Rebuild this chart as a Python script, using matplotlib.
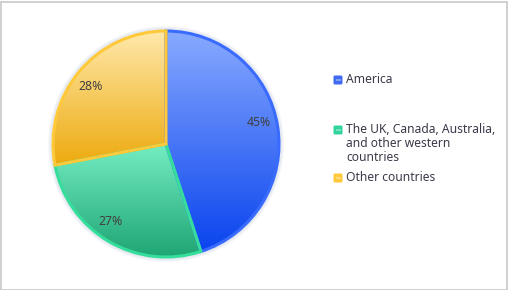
import numpy as np
import matplotlib
matplotlib.use("Agg")
import matplotlib.pyplot as plt
from matplotlib.colors import LinearSegmentedColormap
from matplotlib.patches import Rectangle, FancyBboxPatch

categories = ["America", "The UK, Canada, Australia,\nand other western\ncountries", "Other countries"]
values = [45, 27, 28]
labels = ["45%", "27%", "28%"]
top_colors = ["#88AAFF", "#74EDC3", "#FFE9AC"]
bottom_colors = ["#0A44EE", "#1FA574", "#EDAA0E"]
edge_colors = ["#3A6BFF", "#36DE9C", "#FFC93A"]
legend_colors = ["#3E6BF2", "#2FD49A", "#FFC93A"]
label_angle_shift = [4, -5, 2]

W, H = 508, 290
fig = plt.figure(figsize=(W / 100, H / 100), dpi=100)
ax = fig.add_axes([0, 0, 1, 1])
ax.set_xlim(0, W)
ax.set_ylim(0, H)
ax.set_aspect("equal")
ax.axis("off")

cx, cy, R = 166, 290 - 144, 113

# soft shadow
for k in range(6):
    c = plt.Circle((cx, cy), R + 1.5 + k * 0.6, color="#99AACC", alpha=0.035, zorder=0.5)
    ax.add_patch(c)

wedges, _ = ax.pie(values, startangle=90, counterclock=False, center=(cx, cy),
                   radius=R, frame=True)
ax.set_xlim(0, W)
ax.set_ylim(0, H)
ax.axis("off")

for w, tc, bc, ec in zip(wedges, top_colors, bottom_colors, edge_colors):
    w.set_facecolor("none")
    w.set_edgecolor(ec)
    w.set_linewidth(2.2)
    w.set_zorder(3)
    bb = w.get_path().get_extents(w.get_patch_transform())
    ymin, ymax = bb.y0, bb.y1
    cmap = LinearSegmentedColormap.from_list("g", [bc, tc])
    grad = np.linspace(0, 1, 256).reshape(-1, 1)
    im = ax.imshow(grad, cmap=cmap, extent=(cx - R - 2, cx + R + 2, ymin, ymax),
                   origin="lower", aspect="auto", zorder=2, interpolation="bilinear")
    im.set_clip_path(w)

ax.set_xlim(0, W)
ax.set_ylim(0, H)

# percentage labels
cum = 0
total = sum(values)
for v, lab, sh in zip(values, labels, label_angle_shift):
    mid = 90 - (cum + v / 2) / total * 360 + sh
    cum += v
    r = 0.84 * R
    ax.text(cx + r * np.cos(np.radians(mid)), cy + r * np.sin(np.radians(mid)), lab,
            ha="center", va="center", fontsize=8.8, color="#404040",
            family=["Noto Sans", "DejaVu Sans"], zorder=5)

# legend
leg_y = [290 - 80, 290 - 130, 290 - 178]
for y, name, col in zip(leg_y, categories, legend_colors):
    ax.add_patch(FancyBboxPatch((333.5, y - 4.5), 9, 9,
                                boxstyle="round,pad=0,rounding_size=1.5",
                                facecolor=col, edgecolor="none", zorder=5))
    ax.add_patch(Rectangle((335.5, y - 1), 5, 2, facecolor="white", alpha=0.35,
                           edgecolor="none", zorder=6))
    ax.text(346, y + 7, name, ha="left", va="top", fontsize=8.7, color="#3A3A4A",
            family=["Noto Sans", "DejaVu Sans"], linespacing=1.12, zorder=5)

# border
ax.add_patch(Rectangle((0.5, 0.5), W - 2, H - 2, fill=False, edgecolor="#C8C8C8",
                       linewidth=1.2, zorder=10))

fig.savefig("out.png", dpi=100)
